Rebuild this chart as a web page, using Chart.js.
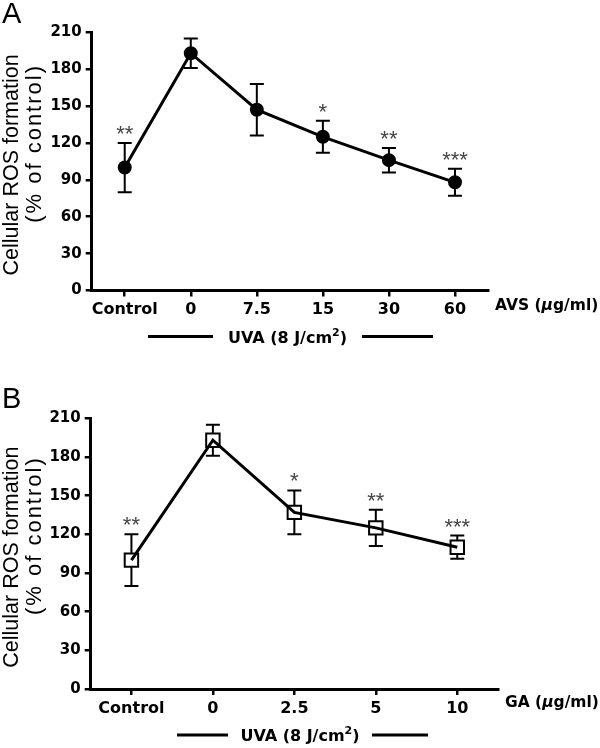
<!DOCTYPE html>
<html>
<head>
<meta charset="utf-8">
<script src="https://cdn.jsdelivr.net/npm/chart.js@4.4.1/dist/chart.umd.min.js"></script>
<style>
  html, body { margin: 0; padding: 0; background: #fff; }
  #wrap { position: relative; width: 600px; height: 748px; }
  canvas { position: absolute; left: 0; }
</style>
</head>
<body>
<div id="wrap">
  <canvas id="panelA" width="600" height="374" style="top:0"></canvas>
  <canvas id="panelB" width="600" height="374" style="top:374px"></canvas>
</div>
<script>
// y axis ticks shared by both panels
const yTicks = [0, 30, 60, 90, 120, 150, 180, 210];

// panel A: AVS
const labelsA = ['Control', '0', '7.5', '15', '30', '60'];
const rosA = [100, 193, 147, 125, 106, 88];
const errA = [20, 12, 21, 13, 10, 11];
const starsA = ['**', '', '', '*', '**', '***'];

// panel B: GA
const labelsB = ['Control', '0', '2.5', '5', '10'];
const rosB = [100, 193, 137, 125, 110];
const errB = [20, 12, 17, 14, 9];
const starsB = ['**', '', '*', '**', '***'];

const FONT = '"Liberation Sans", Arial, sans-serif';
const BOLD = '"DejaVu Sans", "Liberation Sans", sans-serif';

function drawUnit(ctx, x, y, name) {
    // "AVS (µg/ml)" with an italic mu
    const parts = [
        [name + ' (', 'bold 15.5px ' + BOLD],
        ['\u03bc', 'italic bold 15.5px ' + BOLD],
        ['g/ml)', 'bold 15.5px ' + BOLD]
    ];
    ctx.textAlign = 'left';
    ctx.textBaseline = 'middle';
    parts.forEach(p => {
        ctx.font = p[1];
        ctx.fillText(p[0], x, y);
        x += ctx.measureText(p[0]).width;
    });
}

function drawUva(ctx, uva) {
    ctx.strokeStyle = '#000';
    ctx.lineWidth = 3;
    ctx.beginPath();
    ctx.moveTo(uva.left[0], uva.y); ctx.lineTo(uva.left[1], uva.y);
    ctx.moveTo(uva.right[0], uva.y); ctx.lineTo(uva.right[1], uva.y);
    ctx.stroke();

    const main = 'bold 16px ' + BOLD, sup = 'bold 11px ' + BOLD;
    ctx.font = main;
    const w1 = ctx.measureText('UVA (8 J/cm').width;
    const w3 = ctx.measureText(')').width;
    ctx.font = sup;
    const w2 = ctx.measureText('2').width;
    let x = (uva.left[1] + uva.right[0]) / 2 - (w1 + w2 + w3) / 2;
    const base = uva.y + 6;
    ctx.textAlign = 'left';
    ctx.textBaseline = 'alphabetic';
    ctx.font = main;
    ctx.fillText('UVA (8 J/cm', x, base);
    x += w1;
    ctx.font = sup;
    ctx.fillText('2', x, base - 7);
    x += w2;
    ctx.font = main;
    ctx.fillText(')', x, base);
}

function makeDecor(p) {
    return {
        id: 'decor',
        beforeDatasetsDraw(chart) {
            // error bars (mean +/- SD)
            const {ctx, scales: {x, y}} = chart;
            ctx.save();
            ctx.strokeStyle = '#000';
            ctx.lineWidth = 2;
            p.values.forEach((v, i) => {
                const px = x.getPixelForValue(i);
                const top = y.getPixelForValue(v + p.errors[i]);
                const bot = y.getPixelForValue(v - p.errors[i]);
                ctx.beginPath();
                ctx.moveTo(px, top); ctx.lineTo(px, bot);
                ctx.moveTo(px - 7, top); ctx.lineTo(px + 7, top);
                ctx.moveTo(px - 7, bot); ctx.lineTo(px + 7, bot);
                ctx.stroke();
            });
            ctx.restore();
        },
        afterDraw(chart) {
            const {ctx, chartArea, scales: {x, y}} = chart;
            ctx.save();

            // significance stars
            ctx.font = '22px ' + FONT;
            ctx.fillStyle = '#444';
            ctx.textAlign = 'center';
            ctx.textBaseline = 'alphabetic';
            p.stars.forEach((s, i) => {
                if (!s) return;
                const top = y.getPixelForValue(p.values[i] + p.errors[i]);
                ctx.fillText(s, x.getPixelForValue(i), top - 2);
            });
            ctx.fillStyle = '#000';

            // panel letter
            ctx.font = '29px ' + FONT;
            ctx.textAlign = 'left';
            ctx.fillText(p.letter, 2, p.letterY);

            // y axis title, two lines
            const cy = (chartArea.top + chartArea.bottom) / 2;
            ctx.font = '21.5px ' + FONT;
            ctx.textAlign = 'center';
            ctx.textBaseline = 'middle';
            ctx.save();
            ctx.translate(12, cy + 3.5);
            ctx.rotate(-Math.PI / 2);
            ctx.fillText('Cellular ROS formation', 0, 0);
            ctx.restore();
            ctx.save();
            ctx.translate(35, cy - 18);
            ctx.rotate(-Math.PI / 2);
            ctx.font = '22px ' + FONT;
            ctx.letterSpacing = '2px';
            ctx.fillText('(% of control)', 0, 0);
            ctx.restore();

            drawUnit(ctx, chartArea.right + 7, p.unitY, p.unit);
            drawUva(ctx, p.uva);
            ctx.restore();
        }
    };
}

function makeChart(id, p) {
    const ctx = document.getElementById(id).getContext('2d');
    return new Chart(ctx, {
        type: 'line',
        data: {
            labels: p.labels,
            datasets: [{
                // connecting line, on top
                data: p.values,
                borderColor: '#000',
                borderWidth: 3,
                pointRadius: 0,
                fill: false,
                order: 0
            }, {
                // markers
                data: p.values,
                showLine: false,
                pointStyle: p.marker,
                pointRadius: p.markerRadius,
                pointBackgroundColor: p.markerFill,
                pointBorderColor: '#000',
                pointBorderWidth: 2,
                order: 1
            }]
        },
        options: {
            responsive: false,
            animation: false,
            layout: { padding: { top: p.padTop, right: p.padRight, bottom: 0, left: 0 } },
            plugins: { legend: { display: false }, tooltip: { enabled: false } },
            scales: {
                x: {
                    type: 'category',
                    offset: true,
                    grid: { drawOnChartArea: false, tickLength: 6, color: '#000', lineWidth: 2.5 },
                    border: { color: '#000', width: 3 },
                    ticks: { color: '#000', padding: 4, autoSkip: false, maxRotation: 0, font: { family: BOLD, size: 16, weight: 'bold' } },
                    afterFit: s => { s.height = p.xHeight; }
                },
                y: {
                    min: 0,
                    max: 210,
                    grid: { drawOnChartArea: false, tickLength: 6, color: '#000', lineWidth: 2.5 },
                    border: { color: '#000', width: 3 },
                    ticks: { color: '#000', padding: 4, font: { family: BOLD, size: 15, weight: 'bold' } },
                    afterBuildTicks: s => { s.ticks = yTicks.map(v => ({ value: v })); },
                    afterFit: s => { s.width = p.yWidth; }
                }
            }
        },
        plugins: [makeDecor(p)]
    });
}

makeChart('panelA', {
    letter: 'A', letterY: 23,
    labels: labelsA, values: rosA, errors: errA, stars: starsA,
    marker: 'circle', markerRadius: 6, markerFill: '#000',
    padTop: 32.3, padRight: 112, yWidth: 91.7, xHeight: 83.5,
    unit: 'AVS', unitY: 306,
    uva: { y: 336.5, left: [148, 213], right: [362, 433] }
});

makeChart('panelB', {
    letter: 'B', letterY: 34,
    labels: labelsB, values: rosB, errors: errB, stars: starsB,
    marker: 'rect', markerRadius: 9.5, markerFill: '#fff',
    padTop: 44.3, padRight: 102, yWidth: 90.7, xHeight: 59,
    unit: 'GA', unitY: 329,
    uva: { y: 361, left: [177, 228], right: [372, 428] }
});
</script>
</body>
</html>
